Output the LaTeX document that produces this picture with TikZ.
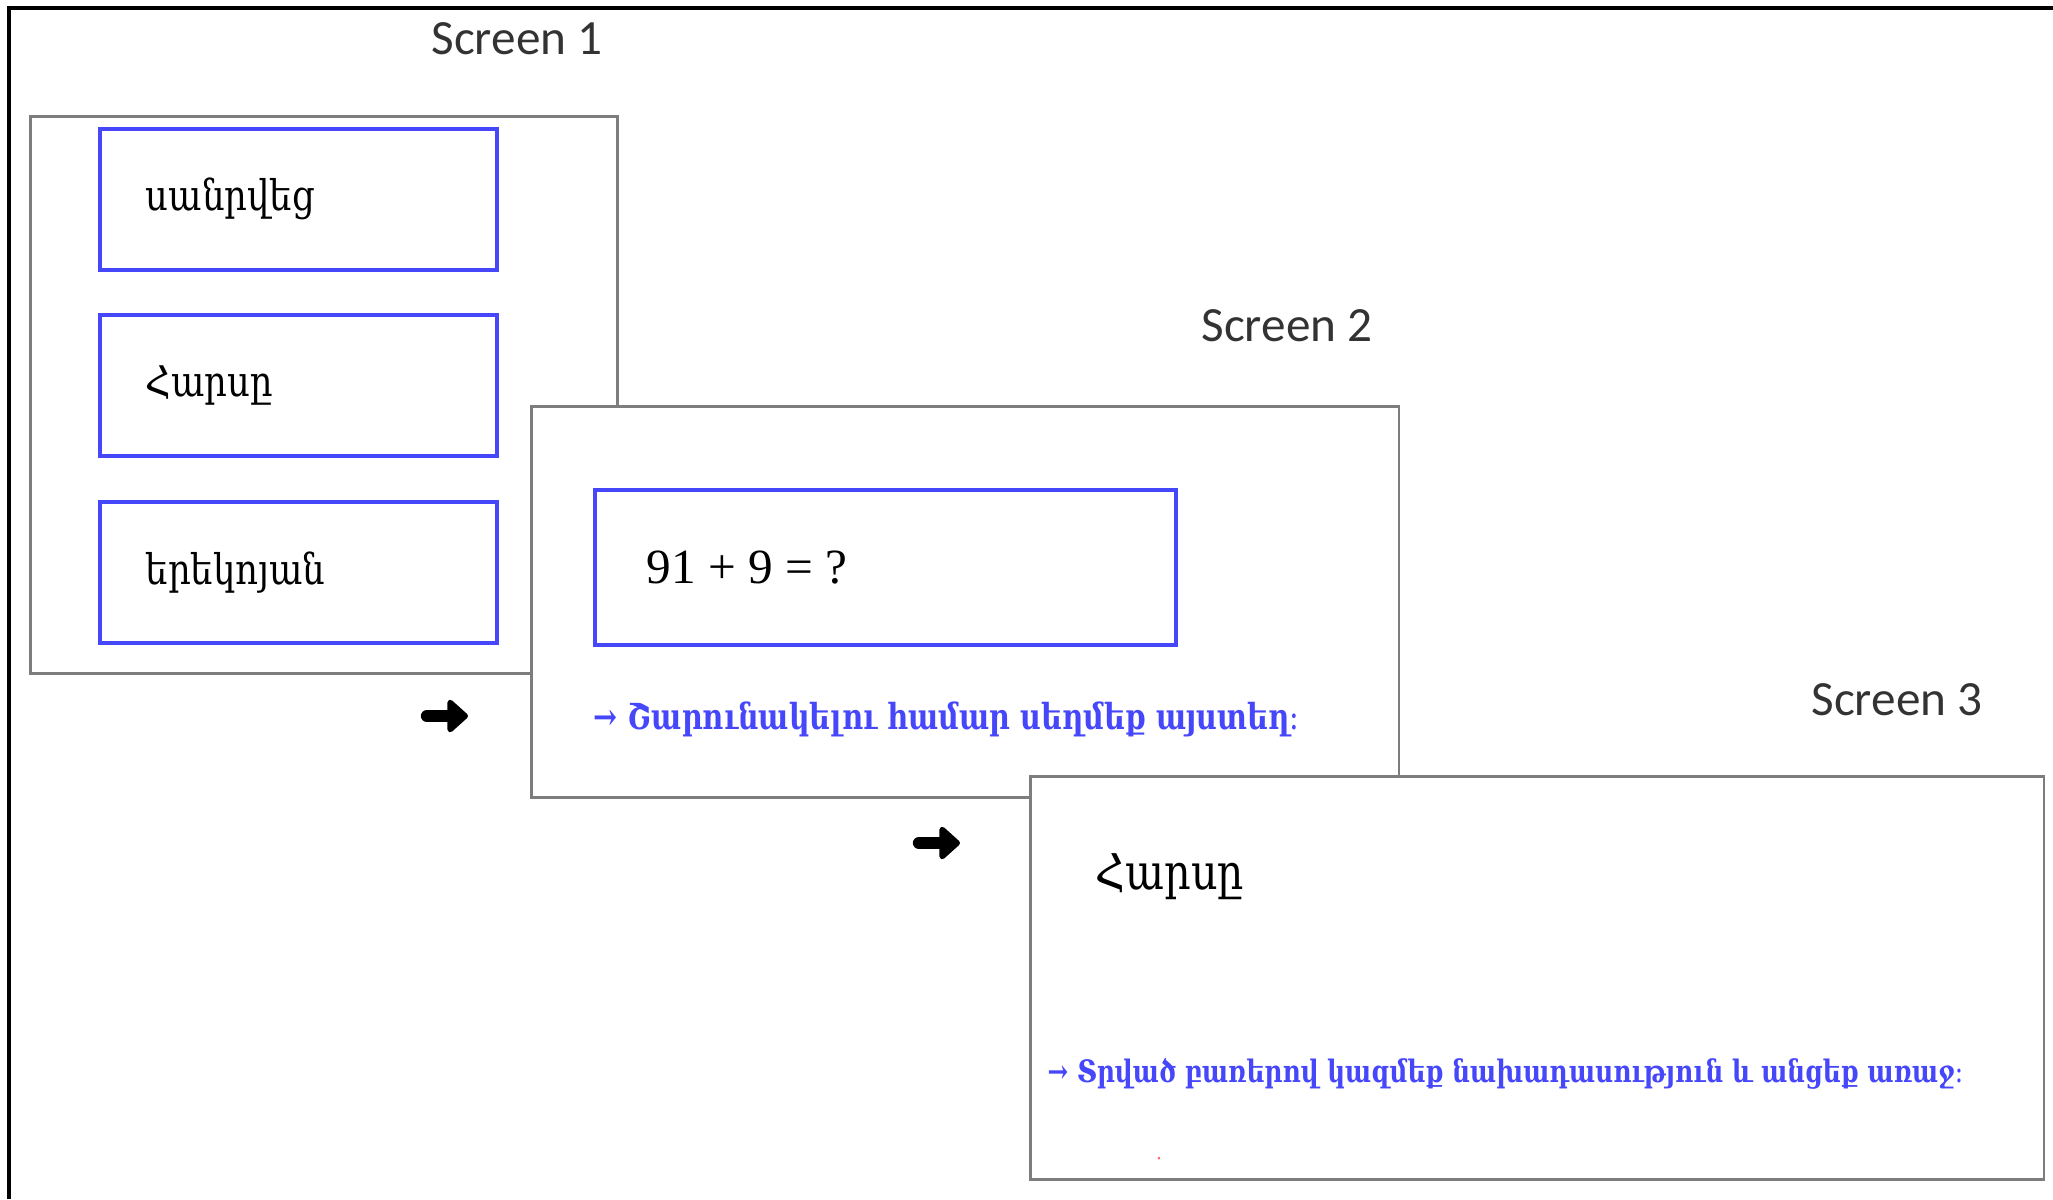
\documentclass[tikz,border=0pt]{standalone}
\usepackage{fontspec}
\setmainfont{Liberation Serif}
\setsansfont{Carlito}
\newfontfamily\armfont[FakeStretch=0.84]{DejaVu Serif}
\newfontfamily\hintfont[FakeStretch=0.8]{DejaVu Serif}
\usetikzlibrary{positioning}
\usetikzlibrary{arrows.meta}
\definecolor{cueblue}{RGB}{70,70,250}
\definecolor{framegray}{RGB}{125,125,125}
\newcommand{\gap}{\hspace{0.25em}}
\tikzset{
    screen/.style = {rectangle, draw=framegray, line width=0.8pt, fill=white, anchor=north west},
    cue/.style = {rectangle, draw=cueblue, line width=1pt, anchor=north west, align=left},
    word/.style = {font=\armfont\fontsize{12}{14}\selectfont},
    title/.style = {font=\sffamily\fontsize{14}{16}\selectfont, text=black!80},
    hint/.style = {anchor=west, text=cueblue, inner sep=0pt},
    nextarrow/.style = {line width=3.5pt, line cap=round, -{Triangle[length=0.22cm, width=0.38cm, round]}}
}
\begin{document}
\begin{tikzpicture}[x=0.01cm,y=-0.01cm]
\useasboundingbox (0,0) rectangle (2053,1199);
% outer frame
\draw[line width=0.9pt] (9,1199) -- (9,8) -- (2053,8);
%
\node[title] (t1) at (517,39) {Screen 1};
\node[title] (t2) at (1287,326) {Screen 2};
\node[title] (t3) at (1897,700) {Screen 3};
%
% screen 1
\node[screen, minimum width=5.87cm, minimum height=5.57cm] (s1) at (29,115) {};
\node[cue, word, minimum height=1.41cm, inner xsep=0.46cm, text width=3.05cm] (w1) at (98,127) {սանրվեց};
\node[cue, word, minimum height=1.41cm, inner xsep=0.46cm, text width=3.05cm] (w2) at (98,313) {Հարսը};
\node[cue, word, minimum height=1.41cm, inner xsep=0.46cm, text width=3.05cm] (w3) at (98,500) {երեկոյան};
%
% screen 2
\node[screen, minimum width=8.67cm, minimum height=3.91cm] (s2) at (530,405) {};
\node[cue, minimum height=1.55cm, inner xsep=0.52cm, text width=4.77cm, font=\fontsize{14}{16}\selectfont] (sum) at (593,488) {91\gap+\gap9\gap=\gap?};
\node[hint, font=\hintfont\bfseries\fontsize{10.2}{12}\selectfont] (h2) at (593,719) {→ Շարունակելու համար սեղմեք այստեղ։};
%
% screen 3
\node[screen, minimum width=10.13cm, minimum height=4.03cm] (s3) at (1029,775) {};
\node[word, anchor=west, font=\armfont\fontsize{14}{16}\selectfont] (bride) at (1083,877) {Հարսը};
\node[hint, font=\hintfont\bfseries\fontsize{8.8}{11}\selectfont] (h3) at (1047,1074) {→ Տրված բառերով կազմեք նախադասություն և անցեք առաջ։};
\fill[red!60] (1159,1158) circle (1.5);
%
% arrows between screens
\coordinate (a1s) at (427,716);
\coordinate (a1e) at (468,716);
\coordinate (a2s) at (919,843);
\coordinate (a2e) at (960,843);
\draw[nextarrow] (a1s) -- (a1e);
\draw[nextarrow] (a2s) -- (a2e);

\end{tikzpicture}
\end{document}
